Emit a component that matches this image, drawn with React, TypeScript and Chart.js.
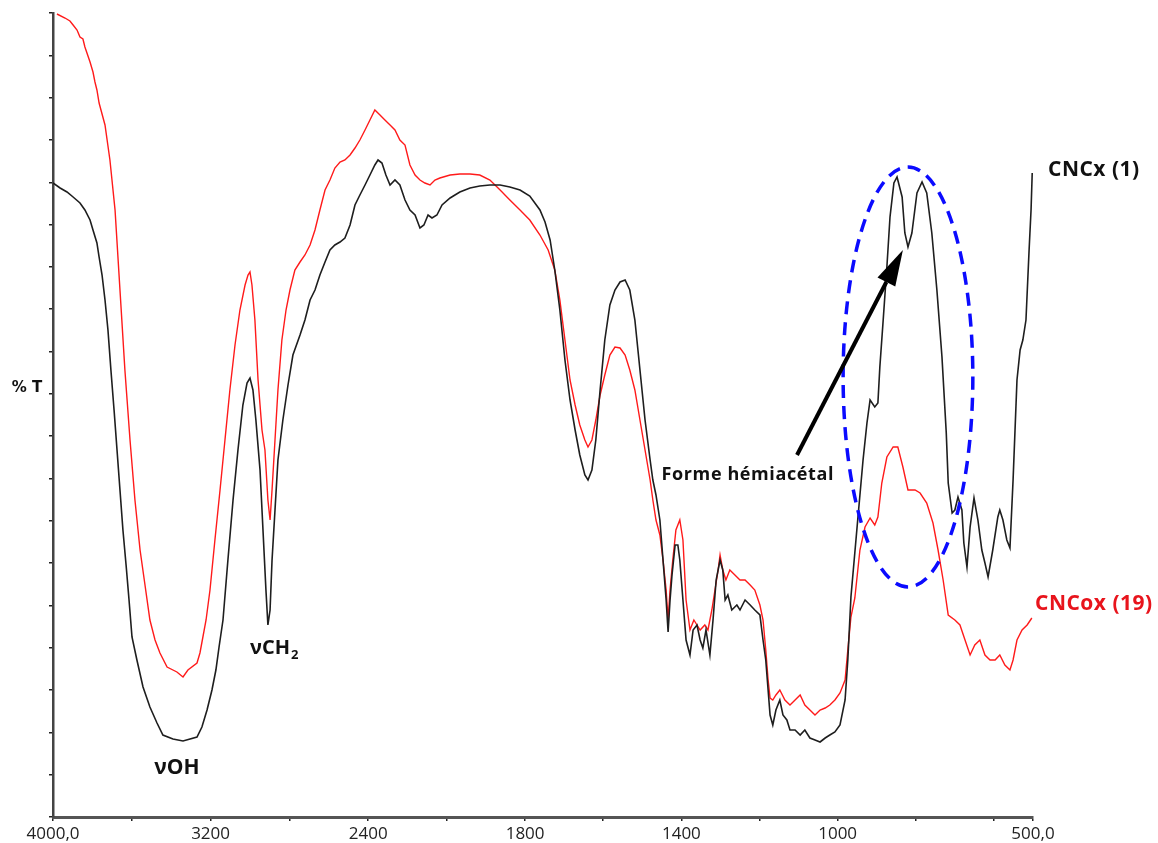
import React, { useEffect, useRef } from 'react';
import { Chart, registerables, LinearScale } from 'chart.js';

// ---------- data (wavenumber in cm-1, transmittance in arbitrary %T units) ----------
const CNCX_WN = [
  4000, 3964, 3929, 3898, 3863, 3838, 3812, 3797, 3777, 3766, 3751, 3736, 3721, 3706, 3690, 3675, 3660, 3645, 3629, 3614,
  3599, 3574, 3543, 3508, 3472, 3442, 3391, 3340, 3269, 3244, 3218, 3193, 3173, 3157, 3137, 3112, 3086, 3061, 3036, 3015,
  3000, 2985, 2970, 2949, 2934, 2919, 2909, 2898,
  2888, 2873, 2858, 2833, 2807, 2782, 2746, 2721, 2695, 2670, 2645, 2619, 2594, 2569, 2543, 2518, 2492, 2467, 2442, 2416,
  2391, 2366, 2350, 2330, 2310, 2289, 2264, 2239, 2213, 2188, 2162, 2137, 2117, 2096, 2076, 2051, 2025, 1992, 1967, 1941,
  1916, 1890, 1864, 1839, 1813, 1788, 1762, 1749, 1736, 1724, 1711, 1698, 1685, 1672, 1660, 1647, 1639, 1629, 1619, 1608,
  1596, 1583, 1570, 1557, 1544, 1532, 1519, 1506, 1493, 1480, 1473, 1465, 1455, 1447, 1439, 1434, 1429, 1424, 1416, 1409,
  1404, 1396, 1388, 1378, 1370, 1360, 1352, 1345, 1337, 1327, 1319, 1311, 1301, 1294, 1288, 1281, 1271, 1258, 1250, 1237,
  1224, 1212, 1199, 1191, 1184, 1178, 1173, 1166, 1158, 1148, 1140, 1130, 1122, 1109, 1096, 1084, 1071, 1058, 1045, 1032,
  1020, 1007, 994, 981, 974, 966, 948, 935, 925, 917, 905, 897, 892, 884, 874, 866, 856, 848, 835, 828,
  820, 810, 797, 784, 772, 759, 746, 733, 722, 717, 707, 700, 692, 682, 677, 669, 661, 651, 641, 631,
  623, 615, 603, 590, 585, 577, 567, 559, 551, 541, 533, 526, 518, 510, 505, 502,
];
const CNCX_T = [
  63.4, 62.9, 62.5, 62.0, 61.4, 60.7, 59.7, 58.7, 57.4, 56.0, 54.2, 51.7, 48.7, 44.7, 40.7, 36.7, 32.7, 28.7, 25.2, 21.7,
  18.0, 15.7, 13.0, 11.0, 9.4, 8.2, 7.8, 7.6, 8.0, 9.0, 10.7, 12.7, 14.7, 17.0, 19.7, 25.7, 31.7, 36.7, 41.2, 43.4,
  43.9, 42.7, 39.7, 34.7, 28.7, 22.7, 19.2, 20.7,
  25.7, 30.7, 35.7, 39.7, 43.2, 46.2, 48.2, 49.7, 51.7, 52.7, 54.2, 55.5, 56.7, 57.2, 57.5, 57.9, 59.2, 61.2, 62.2, 63.2,
  64.2, 65.2, 65.7, 65.4, 64.2, 63.2, 63.7, 63.2, 61.7, 60.7, 60.2, 58.9, 59.2, 60.2, 59.9, 60.2, 61.2, 61.9, 62.5, 62.9,
  63.1, 63.2, 63.2, 63.0, 62.7, 62.1, 60.7, 59.5, 57.7, 54.7, 50.7, 45.7, 41.7, 38.7, 36.2, 34.2, 33.7, 34.7, 37.7, 42.7,
  47.7, 51.2, 52.7, 53.5, 53.7, 52.7, 49.7, 44.7, 39.7, 35.7, 33.7, 32.2, 29.7, 25.7, 21.7, 18.5, 21.7, 24.2, 27.2, 27.2,
  25.7, 21.7, 17.7, 16.2, 18.7, 19.2, 17.7, 16.9, 18.7, 16.2, 19.7, 23.7, 25.7, 24.7, 21.7, 22.2, 20.7, 21.2, 20.7, 21.7,
  21.2, 20.7, 20.2, 17.7, 15.7, 12.7, 10.2, 9.2, 10.7, 11.7, 10.2, 9.7, 8.7, 8.7, 8.2, 8.7, 7.9, 7.7, 7.5, 7.9,
  8.2, 8.5, 9.2, 11.7, 15.7, 22.0, 30.0, 35.7, 39.4, 41.7, 41.0, 41.4, 45.0, 49.4, 55.0, 60.0, 63.4, 64.0, 62.0, 58.4,
  57.0, 58.4, 62.4, 63.5, 62.4, 58.4, 52.7, 46.0, 38.4, 33.4, 30.4, 30.7, 32.0, 30.7, 27.4, 25.0, 29.0, 31.9, 29.7, 26.7,
  25.4, 24.0, 26.7, 30.0, 30.7, 29.7, 27.7, 26.9, 33.7, 43.7, 46.7, 47.7, 49.7, 56.7, 60.7, 64.4,
];

const CNCOX_WN = [
  3980, 3939, 3914, 3898, 3878, 3863, 3848, 3838, 3812, 3797, 3787, 3777, 3766, 3736, 3711, 3685, 3660, 3635, 3609, 3584,
  3558, 3533, 3508, 3482, 3457, 3421, 3371, 3340, 3315, 3269, 3254, 3239, 3223, 3203, 3178, 3152, 3127, 3102, 3076, 3051,
  3025, 3010, 3000, 2990, 2975, 2959, 2939, 2924, 2909, 2898, 2888, 2873, 2858, 2838, 2817, 2797, 2772, 2746,
  2721, 2695, 2670, 2645, 2619, 2594, 2569, 2543, 2518, 2492, 2467, 2442, 2416, 2391, 2366, 2340, 2315, 2289, 2264, 2239,
  2213, 2188, 2162, 2137, 2112, 2086, 2061, 2036, 1992, 1967, 1941, 1916, 1890, 1864, 1839, 1813, 1788, 1762, 1741, 1724,
  1711, 1698, 1685, 1672, 1660, 1647, 1639, 1629, 1619, 1608, 1596, 1583, 1570, 1557, 1544, 1532, 1519, 1506, 1493, 1480,
  1473, 1465, 1455, 1447, 1439, 1434, 1429, 1422, 1414, 1404, 1396, 1388, 1378, 1368, 1360, 1352, 1340, 1332, 1322, 1314,
  1306, 1301, 1294, 1286, 1276, 1263, 1250, 1237, 1224, 1212, 1199, 1191, 1184, 1178, 1173, 1166, 1158, 1148, 1135, 1122,
  1109, 1096, 1084, 1071, 1058, 1045, 1032, 1020, 1007, 994, 981, 974, 966, 956, 943, 930, 917, 905, 897, 887,
  874, 858, 846, 833, 820, 802, 789, 772, 756, 743, 730, 717, 700, 687, 674, 661, 649, 636, 623, 610,
  597, 585, 572, 559, 551, 541, 528, 515, 503,
];
const CNCOX_T = [
  80.3, 79.9, 79.6, 79.2, 78.7, 78.0, 77.8, 77.0, 75.5, 74.5, 73.5, 72.7, 71.4, 69.2, 65.7, 60.7, 52.7, 44.7, 37.7, 31.7,
  26.7, 23.2, 19.7, 17.7, 16.4, 15.0, 14.5, 14.0, 14.7, 15.4, 16.4, 18.0, 19.7, 22.7, 27.7, 32.7, 37.7, 42.7, 47.2, 50.7,
  53.2, 54.2, 54.5, 53.2, 49.7, 43.7, 38.7, 36.7, 31.7, 29.7, 32.7, 37.7, 42.7, 47.7, 50.7, 52.7, 54.7, 55.5,
  56.2, 57.2, 58.7, 60.7, 62.7, 63.7, 64.9, 65.5, 65.7, 66.2, 66.9, 67.7, 68.7, 69.7, 70.7, 70.2, 69.7, 69.2, 68.7, 67.7,
  67.2, 65.2, 64.2, 63.7, 63.4, 63.2, 63.7, 63.9, 64.2, 64.3, 64.3, 64.2, 63.7, 62.7, 61.7, 60.7, 59.7, 58.2, 56.7, 54.7,
  51.7, 47.7, 43.7, 41.2, 39.2, 37.7, 37.0, 37.7, 39.7, 42.2, 44.2, 46.2, 47.0, 46.9, 46.2, 44.7, 42.7, 39.7, 36.7, 33.7,
  31.7, 29.7, 28.2, 25.7, 22.7, 19.7, 22.7, 25.7, 28.7, 29.7, 27.7, 21.7, 18.7, 19.7, 19.2, 18.7, 19.2, 18.7, 20.7, 22.7,
  24.7, 26.2, 24.7, 23.7, 24.7, 24.2, 23.7, 23.7, 23.2, 22.7, 21.2, 19.7, 16.7, 13.7, 11.9, 11.7, 12.2, 12.7, 11.7, 11.2,
  11.7, 12.2, 11.2, 10.7, 10.2, 10.7, 10.9, 11.2, 11.7, 12.4, 13.7, 16.7, 20.0, 21.9, 26.7, 29.0, 29.9, 29.2, 30.0, 33.4,
  36.0, 37.0, 37.0, 35.0, 32.7, 32.7, 32.4, 31.4, 29.4, 26.7, 23.7, 20.2, 19.7, 19.2, 17.7, 16.2, 17.2, 17.7, 16.2, 15.7,
  15.7, 16.2, 15.2, 14.7, 15.7, 17.7, 18.7, 19.2, 19.9,
];

const X_TICKS = [4000, 3600, 3200, 2800, 2400, 2000, 1800, 1600, 1400, 1200, 1000, 800, 600, 500];
const X_LABELS: Record<number, string> = {
  4000: '4000,0', 3200: '3200', 2400: '2400', 1800: '1800', 1400: '1400', 1000: '1000', 500: '500,0',
};
const Y_MIN = 0;
const Y_MAX = 80.4;
const Y_DIVISIONS = 19;

// spectrometer axis: 4000-2000 compressed, 2000-500 expanded
const WN_HIGH = 4000;
const WN_SPLIT = 2000;
const WN_LOW = 500;
const SPLIT_FRACTION = 0.402;

function irFrac(v: number) {
  return v >= WN_SPLIT
    ? ((WN_HIGH - v) / (WN_HIGH - WN_SPLIT)) * SPLIT_FRACTION
    : SPLIT_FRACTION + ((WN_SPLIT - v) / (WN_SPLIT - WN_LOW)) * (1 - SPLIT_FRACTION);
}
function irInv(f: number) {
  return f <= SPLIT_FRACTION
    ? WN_HIGH - (f / SPLIT_FRACTION) * (WN_HIGH - WN_SPLIT)
    : WN_SPLIT - ((f - SPLIT_FRACTION) / (1 - SPLIT_FRACTION)) * (WN_SPLIT - WN_LOW);
}

class IRScale extends LinearScale {
  static id = 'irwavenumber';
  static defaults = {};
  getPixelForValue(value: any) {
    if (value === null || value === undefined || isNaN(value)) return NaN;
    return this.left + irFrac(value) * this.width;
  }
  getValueForPixel(pixel: number) {
    return irInv((pixel - this.left) / this.width);
  }
}

Chart.register(...registerables, IRScale);

// annotation anchors (data coordinates)
const OH_LABEL = { wn: 3371, t: 4.9 };
const CH2_LABEL = { wn: 3000, t: 16.9 };
const HEMI_LABEL = { wn: 1230, t: 34.2 };
const ARROW = { fromWn: 1104, fromT: 36.2, toWn: 833, toT: 56.7 };
const ELLIPSE = { leftWn: 986, rightWn: 654, topT: 65.0, bottomT: 23.0 };
const CNCX_LABEL_T = 64.7;
const CNCOX_LABEL_T = 21.3;
const YTITLE_T = 42.9;

const BLACK = '#1e1e1e';
const RED = '#ff1a1a';

const annotationPlugin = {
  id: 'irAnnotations',
  afterDatasetsDraw(chart: any) {
    const { ctx, chartArea } = chart;
    const xs = chart.scales.x;
    const ys = chart.scales.y;
    ctx.save();

    // dashed ellipse
    const l = xs.getPixelForValue(ELLIPSE.leftWn);
    const r = xs.getPixelForValue(ELLIPSE.rightWn);
    const t = ys.getPixelForValue(ELLIPSE.topT);
    const b = ys.getPixelForValue(ELLIPSE.bottomT);
    ctx.beginPath();
    ctx.setLineDash([13, 8]);
    ctx.lineWidth = 3.5;
    ctx.strokeStyle = '#0b0bff';
    ctx.ellipse((l + r) / 2, (t + b) / 2, (r - l) / 2, (b - t) / 2, 0, 0, Math.PI * 2);
    ctx.stroke();
    ctx.setLineDash([]);

    // arrow
    const x1 = xs.getPixelForValue(ARROW.fromWn);
    const y1 = ys.getPixelForValue(ARROW.fromT);
    const x2 = xs.getPixelForValue(ARROW.toWn);
    const y2 = ys.getPixelForValue(ARROW.toT);
    const ang = Math.atan2(y2 - y1, x2 - x1);
    const headLen = 36;
    const headHalf = 10;
    const bx = x2 - headLen * Math.cos(ang);
    const by = y2 - headLen * Math.sin(ang);
    ctx.beginPath();
    ctx.moveTo(x1, y1);
    ctx.lineTo(bx, by);
    ctx.lineWidth = 4;
    ctx.strokeStyle = '#000';
    ctx.stroke();
    ctx.beginPath();
    ctx.moveTo(x2, y2);
    ctx.lineTo(bx + headHalf * Math.sin(ang), by - headHalf * Math.cos(ang));
    ctx.lineTo(bx - headHalf * Math.sin(ang), by + headHalf * Math.cos(ang));
    ctx.closePath();
    ctx.fillStyle = '#000';
    ctx.fill();

    // texts
    ctx.textBaseline = 'middle';
    ctx.fillStyle = '#111';
    ctx.font = 'bold 21px "Open Sans"';
    ctx.textAlign = 'center';
    ctx.fillText('\u03BDOH', xs.getPixelForValue(OH_LABEL.wn), ys.getPixelForValue(OH_LABEL.t));

    ctx.textAlign = 'left';
    ctx.font = 'bold 20px "Open Sans"';
    const chx = xs.getPixelForValue(CH2_LABEL.wn);
    const chy = ys.getPixelForValue(CH2_LABEL.t);
    ctx.fillText('\u03BDCH', chx, chy);
    const w = ctx.measureText('\u03BDCH').width;
    ctx.font = 'bold 13px "Open Sans"';
    ctx.fillText('2', chx + w + 1, chy + 7);

    ctx.font = 'bold 18px "Open Sans"';
    ctx.textAlign = 'center';
    (ctx as any).letterSpacing = '0.6px';
    ctx.fillText('Forme h\u00E9miac\u00E9tal', xs.getPixelForValue(HEMI_LABEL.wn), ys.getPixelForValue(HEMI_LABEL.t));

    ctx.textAlign = 'left';
    ctx.font = 'bold 21px "Open Sans"';
    (ctx as any).letterSpacing = '0.5px';
    ctx.fillText('CNCx (1)', chartArea.right + 15, ys.getPixelForValue(CNCX_LABEL_T));
    ctx.fillStyle = '#e8141c';
    ctx.fillText('CNCox (19)', chartArea.right + 2, ys.getPixelForValue(CNCOX_LABEL_T));
    (ctx as any).letterSpacing = '0px';

    ctx.fillStyle = '#111';
    ctx.textAlign = 'center';
    ctx.font = 'bold 15px "DejaVu Sans"';
    ctx.fillText('% T', chartArea.left - 26, ys.getPixelForValue(YTITLE_T));

    ctx.restore();
  },
};

export default function App() {
  const canvasRef = useRef<HTMLCanvasElement | null>(null);

  useEffect(() => {
    if (!canvasRef.current) return;
    const yTicks = Array.from({ length: Y_DIVISIONS + 1 }, (_, k) => Y_MIN + (k * (Y_MAX - Y_MIN)) / Y_DIVISIONS);
    const chart = new Chart(canvasRef.current, {
      type: 'line',
      data: {
        datasets: [
          {
            label: 'CNCx (1)',
            data: CNCX_WN.map((wn, i) => ({ x: wn, y: CNCX_T[i] })),
            borderColor: BLACK,
            borderWidth: 1.6,
            pointRadius: 0,
            tension: 0,
            fill: false,
          },
          {
            label: 'CNCox (19)',
            data: CNCOX_WN.map((wn, i) => ({ x: wn, y: CNCOX_T[i] })),
            borderColor: RED,
            borderWidth: 1.4,
            pointRadius: 0,
            tension: 0,
            fill: false,
          },
        ],
      },
      options: {
        animation: false,
        responsive: true,
        maintainAspectRatio: false,
        events: [],
        layout: { padding: { left: 0, top: 13, right: 125, bottom: 0 } },
        plugins: { legend: { display: false }, tooltip: { enabled: false } },
        scales: {
          x: {
            type: 'irwavenumber' as any,
            min: WN_LOW,
            max: WN_HIGH,
            afterBuildTicks: (s: any) => {
              s.ticks = X_TICKS.map((v) => ({ value: v }));
            },
            afterFit: (s: any) => {
              s.height = 26;
            },
            grid: { display: true, drawOnChartArea: false, drawTicks: true, tickLength: 4, color: '#222', lineWidth: 1.5 },
            border: { display: true, color: '#555', width: 3 },
            ticks: {
              autoSkip: false,
              maxRotation: 0,
              padding: 3,
              color: '#222',
              font: { family: '"Open Sans"', size: 17 },
              callback: (v: any) => X_LABELS[v as number] ?? '',
            },
          },
          y: {
            type: 'linear',
            min: Y_MIN,
            max: Y_MAX,
            afterBuildTicks: (s: any) => {
              s.ticks = yTicks.map((v) => ({ value: v }));
            },
            afterFit: (s: any) => {
              s.width = 53;
            },
            grid: { display: true, drawOnChartArea: false, drawTicks: true, tickLength: 4, color: '#222', lineWidth: 1.5 },
            border: { display: true, color: '#444', width: 2.5 },
            ticks: { display: false },
          },
        },
      },
      plugins: [annotationPlugin],
    });
    return () => chart.destroy();
  }, []);

  return (
    <div style={{ position: 'fixed', left: 0, top: 0, width: 1158, height: 843, background: '#fff' }}>
      <canvas ref={canvasRef} />
    </div>
  );
}
